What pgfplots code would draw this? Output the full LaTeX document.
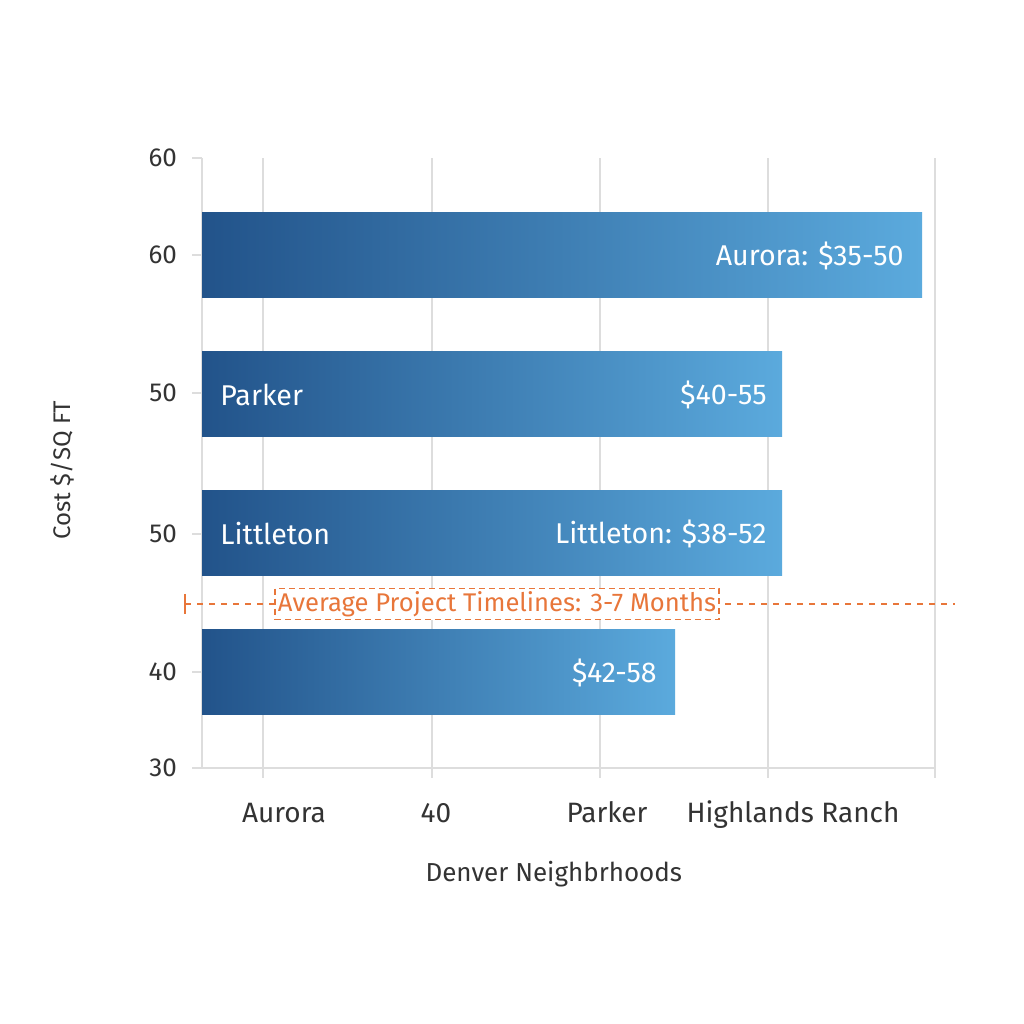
\documentclass[border=0pt]{standalone}
\usepackage{pgfplots}
\pgfplotsset{compat=1.18}
\usepackage{fontspec}
\setmainfont{Fira Sans}
\definecolor{barL}{HTML}{22538A}
\definecolor{barR}{HTML}{5BAADD}
\definecolor{txt}{HTML}{333333}
\definecolor{grd}{HTML}{DDDDDD}
\definecolor{orng}{HTML}{E8763A}
\begin{document}
\begin{tikzpicture}[x=0.5pt,y=0.5pt]
\path[fill=white] (0,0) rectangle (1024,1024);
\begin{axis}[
  at={(101pt,128pt)}, anchor=south west,
  scale only axis, width=366.5pt, height=305pt,
  xmin=0, xmax=733, ymin=256, ymax=866,
  axis lines=left, axis line style={-, grd, line width=0.8pt},
  tick align=outside, major tick length=5pt,
  tick style={grd, line width=0.8pt},
  xtick={61,230,398,566,733},
  xticklabels={},
  extra x ticks={82,234,405,591},
  extra x tick labels={Aurora,40,Parker,Highlands Ranch},
  extra x tick style={major tick length=0pt, grid=none,
    xticklabel style={font=\fontsize{14}{16}\selectfont, text=txt, yshift=-16pt,
      text height=0.75em, text depth=0.25em}},
  ytick={256,352,490,631,769,866},
  yticklabels={30,40,50,50,60,60},
  xmajorgrids, grid style={grd, line width=0.8pt},
  ticklabel style={font=\fontsize{13}{15}\selectfont, text=txt},
  yticklabel style={xshift=-4pt},
  xlabel={Denver Neighbrhoods}, ylabel={Cost \$/SQ FT},
  label style={text=txt},
  xlabel style={font=\fontsize{13}{15}\selectfont, at={(axis description cs:0.48,0)}, anchor=center, yshift=-53pt},
  ylabel style={font=\fontsize{12}{14}\selectfont, at={(axis description cs:0,0.4885)}, anchor=center, yshift=70pt},
  clip=false,
  /pgf/number format/assume math mode=true,
  bars/.style={xbar, bar width=85, draw=none, left color=barL, right color=barR},
]
\addplot[bars] coordinates {(720,768.5)};
\addplot[bars] coordinates {(580,629.5)};
\addplot[bars] coordinates {(580,490.5)};
\addplot[bars] coordinates {(473,351.5)};
\addplot[orng, dashed, line width=0.9pt, mark=|, mark indices={1},
  mark options={solid, mark size=5pt}]
  coordinates {(-17,420) (753,420)};
\node[draw=orng, color=orng, densely dashed, line width=0.6pt, fill=white, text=orng,
  inner sep=1.5pt, font=\fontsize{12.8}{14}\selectfont]
  at (axis cs:295,420) {Average Project Timelines: 3-7 Months};
\begin{scope}[every node/.style={text=white, inner sep=0pt, font=\fontsize{14.3}{16}\selectfont}]
\node[anchor=east] at (axis cs:702,768.5) {Aurora: \$35-50};
\node[anchor=west] at (axis cs:18,629.5) {Parker};
\node[anchor=east] at (axis cs:565,629.5) {\$40-55};
\node[anchor=west] at (axis cs:18,490.5) {Littleton};
\node[anchor=east] at (axis cs:565,490.5) {Littleton: \$38-52};
\node[anchor=east] at (axis cs:455,351.5) {\$42-58};
\end{scope}
\end{axis}
\end{tikzpicture}
\end{document}
